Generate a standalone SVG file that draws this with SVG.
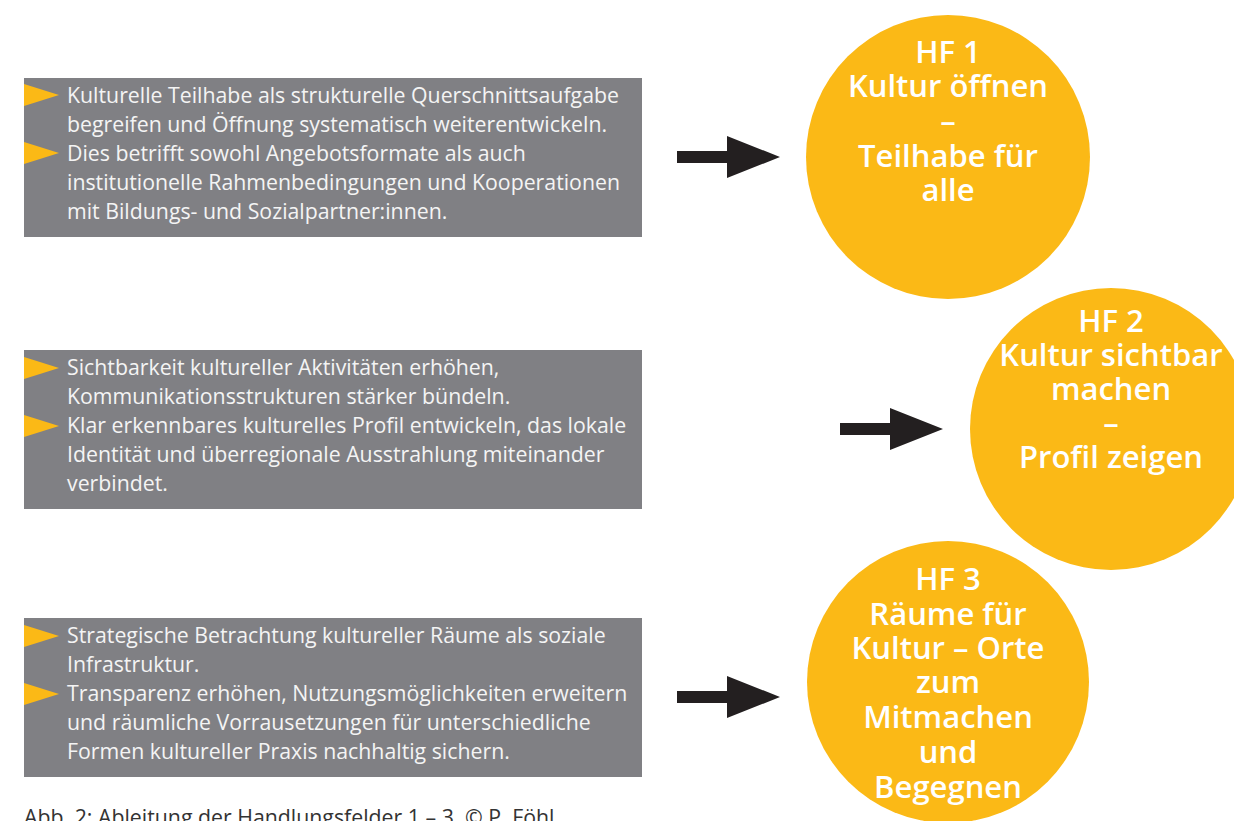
<svg xmlns="http://www.w3.org/2000/svg" width="1234" height="821" viewBox="0 0 1234 821">
<style>
.box{fill:#808084}
.bt{font-family:"Open Sans","Noto Sans",sans-serif;font-size:21.3px;fill:#f4f4f4}
.bul{fill:#FBB916}
.circ{fill:#FBB916}
.ct{font-family:"Open Sans","Noto Sans",sans-serif;font-size:31px;font-weight:600;fill:#fff;text-anchor:middle}
.arr{fill:#231f20}
.cap{font-family:"Open Sans","Noto Sans",sans-serif;font-size:21.3px;fill:#333}
</style>
<rect width="1234" height="821" fill="#fff"/>
<g id="box1">
<rect class="box" x="24" y="78" width="618" height="159"/>
<polygon class="bul" points="24,84 59,95 24,106"/>
<polygon class="bul" points="24,142 59,153 24,164"/>
<text class="bt" x="67" y="103">Kulturelle Teilhabe als strukturelle Querschnittsaufgabe</text>
<text class="bt" x="67" y="132">begreifen und Öffnung systematisch weiterentwickeln.</text>
<text class="bt" x="67" y="161">Dies betrifft sowohl Angebotsformate als auch</text>
<text class="bt" x="67" y="190">institutionelle Rahmenbedingungen und Kooperationen</text>
<text class="bt" x="67" y="219">mit Bildungs- und Sozialpartner:innen.</text>
</g>
<g id="box2">
<rect class="box" x="24" y="350" width="618" height="159"/>
<polygon class="bul" points="24,357 59,368 24,379"/>
<polygon class="bul" points="24,415 59,426 24,437"/>
<text class="bt" x="67" y="375">Sichtbarkeit kultureller Aktivitäten erhöhen,</text>
<text class="bt" x="67" y="404">Kommunikationsstrukturen stärker bündeln.</text>
<text class="bt" x="67" y="433">Klar erkennbares kulturelles Profil entwickeln, das lokale</text>
<text class="bt" x="67" y="462">Identität und überregionale Ausstrahlung miteinander</text>
<text class="bt" x="67" y="491">verbindet.</text>
</g>
<g id="box3">
<rect class="box" x="24" y="618" width="618" height="159"/>
<polygon class="bul" points="24,625 59,636 24,647"/>
<polygon class="bul" points="24,683 59,694 24,705"/>
<text class="bt" x="67" y="643">Strategische Betrachtung kultureller Räume als soziale</text>
<text class="bt" x="67" y="672">Infrastruktur.</text>
<text class="bt" x="67" y="701">Transparenz erhöhen, Nutzungsmöglichkeiten erweitern</text>
<text class="bt" x="67" y="730">und räumliche Vorrausetzungen für unterschiedliche</text>
<text class="bt" x="67" y="759">Formen kultureller Praxis nachhaltig sichern.</text>
</g>
<g id="connectors">
<polygon class="arr" points="677,151 727,151 727,136 780,157 727,178 727,163 677,163"/>
<polygon class="arr" points="840,423 890,423 890,408 943,429 890,450 890,435 840,435"/>
<polygon class="arr" points="677,691 727,691 727,676 780,697 727,718 727,703 677,703"/>
</g>
<g id="hf1">
<circle class="circ" cx="948" cy="157" r="142"/>
<text class="ct" x="948" y="63">HF 1</text>
<text class="ct" x="948" y="97">Kultur öffnen</text>
<text class="ct" x="948" y="132">–</text>
<text class="ct" x="948" y="167">Teilhabe für</text>
<text class="ct" x="948" y="201">alle</text>
</g>
<g id="hf2">
<circle class="circ" cx="1111" cy="429" r="141"/>
<text class="ct" x="1111" y="332">HF 2</text>
<text class="ct" x="1111" y="366">Kultur sichtbar</text>
<text class="ct" x="1111" y="400">machen</text>
<text class="ct" x="1111" y="434">–</text>
<text class="ct" x="1111" y="468">Profil zeigen</text>
</g>
<g id="hf3">
<circle class="circ" cx="948" cy="682" r="141"/>
<text class="ct" x="948" y="590">HF 3</text>
<text class="ct" x="948" y="625">Räume für</text>
<text class="ct" x="948" y="659">Kultur – Orte</text>
<text class="ct" x="948" y="693">zum</text>
<text class="ct" x="948" y="728">Mitmachen</text>
<text class="ct" x="948" y="763">und</text>
<text class="ct" x="948" y="798">Begegnen</text>
</g>
<text class="cap" x="24" y="825">Abb. 2: Ableitung der Handlungsfelder 1 – 3. © P. Föhl</text>
</svg>
